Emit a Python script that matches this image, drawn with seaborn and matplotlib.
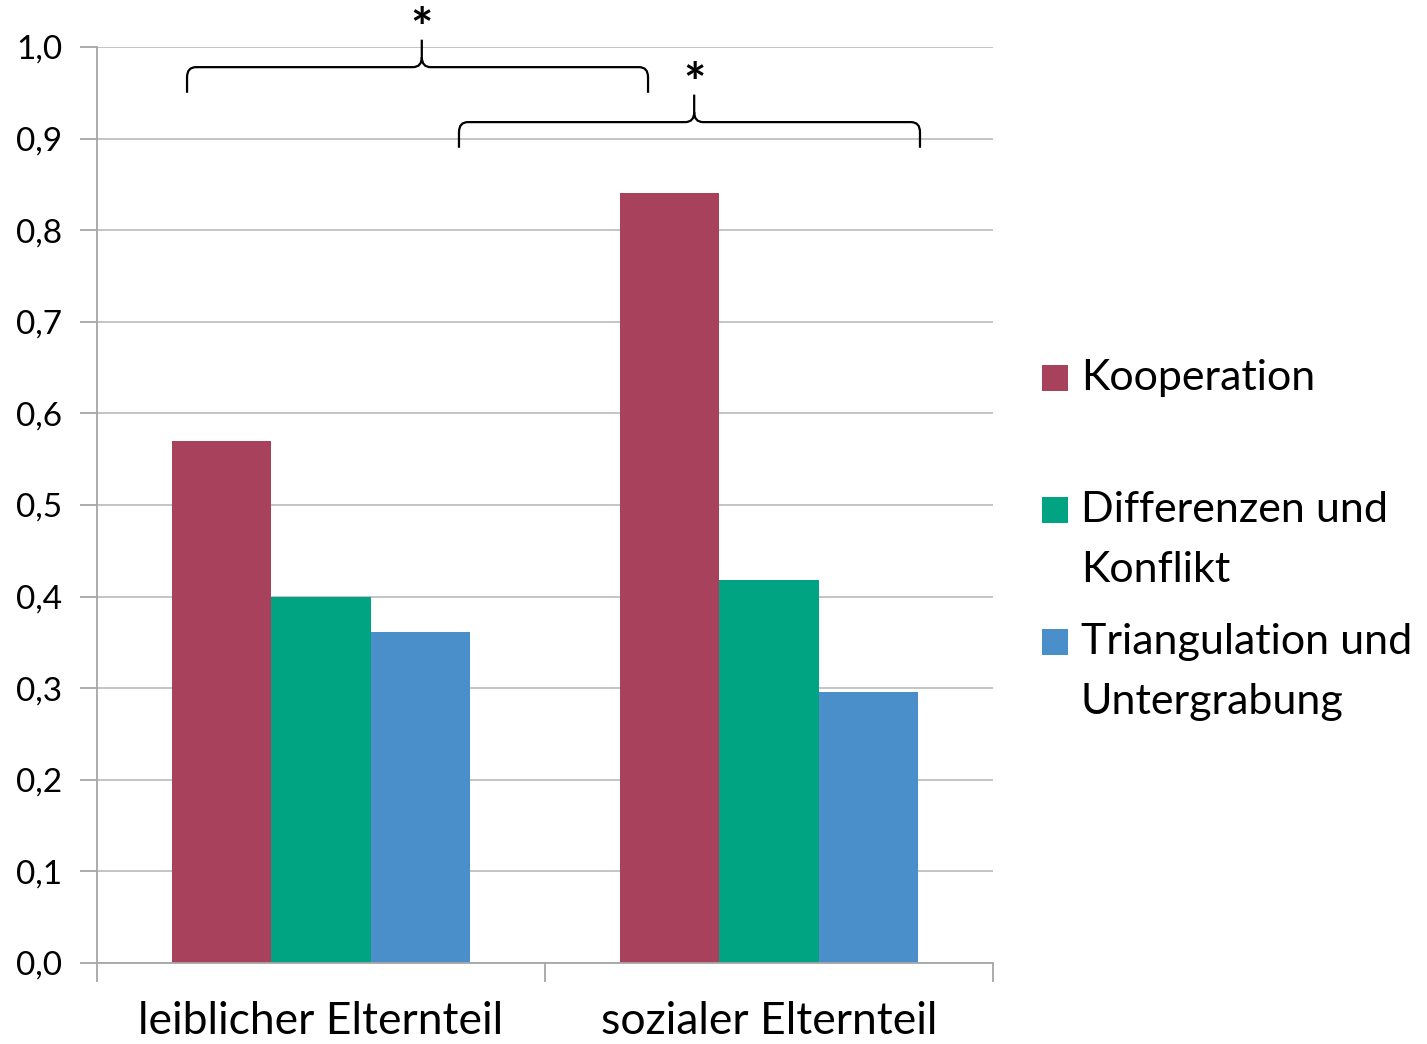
import matplotlib
matplotlib.use("Agg")
import matplotlib.pyplot as plt
from matplotlib.path import Path
from matplotlib.patches import PathPatch, Rectangle
import seaborn as sns
import pandas as pd

categories = ["leiblicher Elternteil", "sozialer Elternteil"]
series = ["Kooperation", "Differenzen und\nKonflikt", "Triangulation und\nUntergrabung"]
kooperation = [0.57, 0.841]
differenzen = [0.40, 0.418]
triangulation = [0.361, 0.296]
colors = ["#A8415B", "#00A483", "#4A8FCA"]
yticks = [0.0, 0.1, 0.2, 0.3, 0.4, 0.5, 0.6, 0.7, 0.8, 0.9, 1.0]
ytick_labels = ["0,0", "0,1", "0,2", "0,3", "0,4", "0,5", "0,6", "0,7", "0,8", "0,9", "1,0"]

rows = []
for s, vals in zip(series, [kooperation, differenzen, triangulation]):
    for c, v in zip(categories, vals):
        rows.append({"cat": c, "series": s, "val": v})
df = pd.DataFrame(rows)

sns.set_theme(style="white")
FONT = ["Lato", "DejaVu Sans"]
plt.rcParams["font.family"] = FONT
plt.rcParams["text.color"] = "black"
plt.rcParams["xtick.color"] = "black"
plt.rcParams["ytick.color"] = "black"

fig = plt.figure(figsize=(14.27, 10.44), dpi=100)
ax = fig.add_axes([97/1427, 1-963/1044, (993-97)/1427, (963-47)/1044])

sns.barplot(data=df, x="cat", y="val", hue="series", order=categories,
            hue_order=series, palette=colors, width=0.665, gap=0,
            saturation=1, ax=ax, legend=False, edgecolor="none", linewidth=0)

ax.set_xlim(-0.5, 1.5)
ax.set_ylim(0, 1.0)
ax.set_yticks(yticks)
ax.set_yticklabels(ytick_labels, fontsize=24, color="black")
ax.yaxis.grid(True, color="#BFBFBF", linewidth=1.3)
ax.set_axisbelow(True)
ax.set_xlabel("")
ax.set_ylabel("")
ax.set_xticks([-0.5, 0.5, 1.5], minor=False)
ax.set_xticklabels(["", "", ""])
ax.set_xticks([0, 1], minor=True)
ax.set_xticklabels(categories, minor=True, fontsize=32, color="black")
ax.tick_params(axis="x", which="minor", bottom=False, length=0, pad=27)
ax.tick_params(axis="x", which="major", bottom=True, length=14, width=1.3, color="#A6A6A6", direction="out")
ax.tick_params(axis="y", left=True, length=12, width=1.3, color="#A6A6A6", direction="out", pad=13)
for sp in ["top", "right"]:
    ax.spines[sp].set_visible(False)
for sp in ["left", "bottom"]:
    ax.spines[sp].set_color("#A6A6A6")
    ax.spines[sp].set_linewidth(1.3)

def brace(x0, x1, xm, yt, ye, ytip, rx=0.02, ry=0.011):
    verts = [(x0, ye), (x0, yt - ry), (x0, yt), (x0 + rx, yt), (xm - rx, yt),
             (xm, yt), (xm, yt + ry), (xm, ytip),
             (xm, yt + ry), (xm, yt), (xm + rx, yt), (x1 - rx, yt),
             (x1, yt), (x1, yt - ry), (x1, ye)]
    codes = [Path.MOVETO, Path.LINETO, Path.CURVE3, Path.CURVE3, Path.LINETO,
             Path.CURVE3, Path.CURVE3, Path.LINETO,
             Path.MOVETO, Path.CURVE3, Path.CURVE3, Path.LINETO,
             Path.CURVE3, Path.CURVE3, Path.LINETO]
    p = PathPatch(Path(verts, codes), fill=False, edgecolor="black", linewidth=1.6,
                  clip_on=False)
    ax.add_patch(p)

brace(-0.299, 0.730, 0.225, 0.978, 0.950, 1.008)
ax.text(0.225, 0.990, "*", ha="center", va="bottom", fontsize=38, fontweight="bold", clip_on=False)
brace(0.308, 1.337, 0.833, 0.918, 0.890, 0.948)
ax.text(0.833, 0.930, "*", ha="center", va="bottom", fontsize=38, fontweight="bold", clip_on=False)

# legend
entries = [(378, [series[0]]), (510, ["Differenzen und", "Konflikt"]), (642, ["Triangulation und", "Untergrabung"])]
for (yc, lines), col in zip(entries, colors):
    fig.patches.append(Rectangle((1042/1427, 1-(yc+13)/1044), 26/1427, 26/1044,
                                 transform=fig.transFigure, facecolor=col, edgecolor="none"))
    for i, ln in enumerate(lines):
        fig.text(1081/1427, 1-(yc+i*60)/1044, ln, ha="left", va="center", fontsize=31)

fig.savefig("out.png", dpi=100)
